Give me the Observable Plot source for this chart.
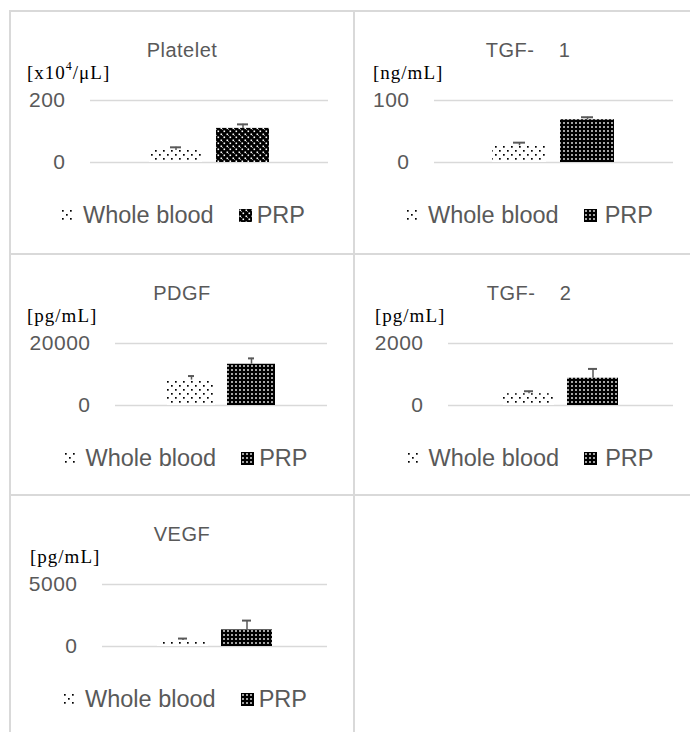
<!DOCTYPE html>
<html><head><meta charset="utf-8">
<script src="https://cdn.jsdelivr.net/npm/d3@7"></script>
<script src="https://cdn.jsdelivr.net/npm/@observablehq/plot@0.6"></script>
<style>
html,body{margin:0;padding:0;background:#fff;}
#wrap{position:relative;width:690px;height:732px;overflow:hidden;font-family:"Liberation Sans",Arial,sans-serif;}
.line{position:absolute;background:#d9d9d9;}
.panel{position:absolute;}
.title{position:absolute;left:0;right:0;text-align:center;color:#595959;font-size:20px;letter-spacing:0.5px;white-space:pre;line-height:1;}
.unit{position:absolute;font-family:"Liberation Serif","Times New Roman",serif;font-size:19px;color:#000;letter-spacing:1px;line-height:1;white-space:nowrap;}
.unit sup{font-size:12px;line-height:0;vertical-align:9px;}
.legend{position:absolute;left:0;right:0;display:flex;justify-content:center;align-items:center;color:#595959;font-size:23.5px;line-height:1;white-space:nowrap;}
.plot{position:absolute;left:0;}
</style></head><body>
<svg width="0" height="0" style="position:absolute">
<defs>
<pattern id="pWB" width="8" height="8" patternUnits="userSpaceOnUse">
<rect width="8" height="8" fill="#fff"/>
<rect x="1" y="1" width="1.7" height="1.7" fill="#000"/>
<rect x="5" y="5" width="1.7" height="1.7" fill="#000"/>
</pattern>
<pattern id="pPRP" width="4" height="4" patternUnits="userSpaceOnUse">
<rect width="4" height="4" fill="#000"/>
<rect x="1.2" y="1.2" width="1.6" height="1.6" fill="#fff"/>
</pattern>
<pattern id="pPRP0" width="6" height="6" patternUnits="userSpaceOnUse">
<rect width="6" height="6" fill="#000"/>
<rect x="0.5" y="0.5" width="1.6" height="1.6" fill="#fff"/>
<rect x="3.5" y="3.5" width="1.6" height="1.6" fill="#fff"/>
<rect x="2" y="2" width="1" height="1" fill="#888"/>
</pattern>
</defs>
</svg>
<div id="wrap"></div>
<script>
// ---- data ----
const panelTitles = ["Platelet", "TGF-    1", "PDGF", "TGF-    2", "VEGF"];
const units = ["[x10^4/μL]", "[ng/mL]", "[pg/mL]", "[pg/mL]", "[pg/mL]"];
const groups = ["Whole blood", "PRP"];
const wholeBlood = [39, 27, 8200, 380, 480];
const wholeBloodErr = [10, 5, 1300, 80, 160];
const prp = [110, 69, 13300, 880, 1340];
const prpErr = [13, 4, 1900, 300, 750];
const yTicks = [[0, 200], [0, 100], [0, 20000], [0, 2000], [0, 5000]];

// ---- layout ----
const wrap = document.getElementById("wrap");
function line(x, y, w, h) {
  const d = document.createElement("div");
  d.className = "line";
  Object.assign(d.style, {left: x + "px", top: y + "px", width: w + "px", height: h + "px"});
  wrap.appendChild(d);
}
line(10, 10, 680, 2);
line(10, 253, 680, 2);
line(10, 494, 680, 2);
line(9, 10, 2, 722);
line(353, 10, 2, 722);

const layout = [
  {left: 10, top: 11, w: 344, ml: 80, mr: 26, ux: 17, tx: 0, lx: 2, gap: 5},
  {left: 354, top: 11, w: 336, ml: 80, mr: 17, ux: 19, tx: 12, lx: 15, gap: 8},
  {left: 10, top: 254, w: 344, ml: 105, mr: 27, ux: 17, tx: 0, lx: 7, gap: 5},
  {left: 354, top: 254, w: 336, ml: 94, mr: 17, ux: 21, tx: 14, lx: 16, gap: 8},
  {left: 10, top: 495, w: 344, ml: 92, mr: 27, ux: 20, tx: 0, lx: 6, gap: 5}
];

const prpPattern = i => i === 0 ? "url(#pPRP0)" : "url(#pPRP)";

layout.forEach((L, i) => {
  const p = document.createElement("div");
  p.className = "panel";
  Object.assign(p.style, {left: L.left + "px", top: L.top + "px", width: L.w + "px", height: "240px"});
  wrap.appendChild(p);

  const t = document.createElement("div");
  t.className = "title";
  t.textContent = panelTitles[i];
  t.style.top = "28.5px";
  t.style.left = L.tx + "px";
  p.appendChild(t);

  const u = document.createElement("div");
  u.className = "unit";
  const parts = units[i].split("^");
  if (parts.length > 1) {
    u.append(parts[0]);
    const s = document.createElement("sup");
    s.textContent = parts[1][0];
    u.appendChild(s);
    u.append(parts[1].slice(1));
  } else u.textContent = units[i];
  u.style.left = L.ux + "px";
  u.style.top = "52px";
  p.appendChild(u);

  const data = [
    {group: groups[0], value: wholeBlood[i], err: wholeBloodErr[i]},
    {group: groups[1], value: prp[i], err: prpErr[i]}
  ];
  const max = yTicks[i][1];
  const chart = Plot.plot({
    width: L.w,
    height: 87,
    marginLeft: L.ml,
    marginRight: L.mr,
    marginTop: 15,
    marginBottom: 10,
    style: {fontFamily: "'Liberation Sans', Arial, sans-serif", fontSize: "21px", color: "#595959", letterSpacing: "0.5px", background: "transparent", overflow: "visible"},
    x: {domain: groups, paddingInner: 0.204, paddingOuter: 0.857, axis: null},
    y: {domain: [0, max], axis: null},
    marks: [
      Plot.gridY(yTicks[i], {stroke: "#d9d9d9", strokeOpacity: 1, strokeWidth: 1.6}),
      Plot.axisY(yTicks[i], {tickSize: 0, tickPadding: 25, fontSize: 21, label: null, tickFormat: d => String(d)}),
      Plot.barY(data.filter(d => d.group === groups[0]), {x: "group", y: "value", fill: "url(#pWB)"}),
      Plot.barY(data.filter(d => d.group === groups[1]), {x: "group", y: "value", fill: prpPattern(i)}),
      Plot.ruleX(data, {x: "group", y1: "value", y2: d => d.value + d.err, stroke: "#595959", strokeWidth: 1.5}),
      Plot.tickY(data, {x: "group", y: d => d.value + d.err, insetLeft: 21, insetRight: 21, stroke: "#595959", strokeWidth: 2})
    ]
  });
  chart.classList.add("plot");
  chart.style.top = "74px";
  p.appendChild(chart);

  const lg = document.createElement("div");
  lg.className = "legend";
  lg.style.top = "193px";
  const sw = (fill, w, mr, ml) => {
    const s = document.createElementNS("http://www.w3.org/2000/svg", "svg");
    s.setAttribute("width", w); s.setAttribute("height", 13);
    s.style.marginRight = mr + "px"; s.style.marginLeft = ml + "px";
    const r = document.createElementNS("http://www.w3.org/2000/svg", "rect");
    r.setAttribute("width", w); r.setAttribute("height", 13); r.setAttribute("fill", fill);
    s.appendChild(r);
    return s;
  };
  lg.appendChild(sw("url(#pWB)", 12, 10, 0));
  const a = document.createElement("span"); a.textContent = groups[0]; lg.appendChild(a);
  lg.appendChild(sw(prpPattern(i), 13, L.gap, 25));
  const b = document.createElement("span"); b.textContent = groups[1]; lg.appendChild(b);
  lg.style.left = L.lx + "px";
  p.appendChild(lg);
});
</script>
</body></html>
